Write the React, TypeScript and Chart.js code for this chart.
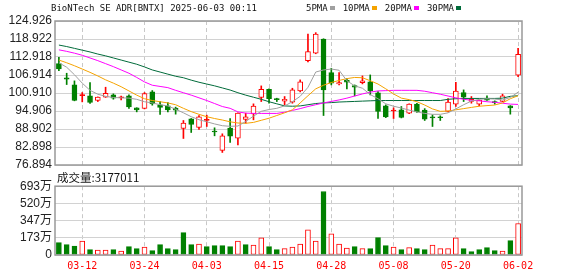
import React, { useEffect, useRef } from 'react';
import { Chart, registerables } from 'chart.js';

Chart.register(...registerables);

// ---------------- data ----------------
const dates = [
  '03-07', '03-10', '03-11', '03-12', '03-13', '03-14', '03-17', '03-18', '03-19', '03-20',
  '03-21', '03-24', '03-25', '03-26', '03-27', '03-28', '03-31', '04-01', '04-02', '04-03',
  '04-04', '04-07', '04-08', '04-09', '04-10', '04-11', '04-14', '04-15', '04-16', '04-17',
  '04-21', '04-22', '04-23', '04-24', '04-25', '04-28', '04-29', '04-30', '05-01', '05-02',
  '05-05', '05-06', '05-07', '05-08', '05-09', '05-12', '05-13', '05-14', '05-15', '05-16',
  '05-19', '05-20', '05-21', '05-22', '05-23', '05-27', '05-28', '05-29', '05-30', '06-02',
];

const openP = [
  110.72, 105.95, 103.61, 100.05, 99.95, 98.40, 99.51, 100.28, 99.30, 99.95,
  95.96, 95.73, 101.28, 96.95, 96.62, 95.84, 89.07, 92.29, 89.41, 91.80,
  88.10, 81.75, 89.18, 85.85, 92.07, 93.96, 99.40, 102.17, 98.80, 98.18,
  97.84, 101.62, 111.72, 114.16, 118.93, 107.72, 103.95, 105.17, 103.39, 104.39,
  104.61, 100.95, 96.62, 94.90, 95.29, 94.18, 97.18, 95.18, 92.70, 92.70,
  94.73, 97.18, 101.06, 98.06, 97.18, 99.20, 97.80, 98.06, 96.62, 106.83,
];

const highP = [
  112.83, 107.50, 104.95, 101.06, 104.39, 99.60, 102.84, 100.62, 99.90, 100.28,
  96.00, 101.06, 101.73, 98.06, 97.73, 96.20, 91.74, 92.40, 93.40, 93.51,
  89.30, 87.30, 92.40, 94.30, 94.18, 97.29, 103.28, 102.30, 99.17, 99.73,
  102.50, 105.28, 120.60, 121.04, 119.00, 109.16, 107.72, 105.72, 103.60, 106.61,
  106.94, 101.39, 96.95, 95.96, 96.40, 97.30, 97.50, 95.70, 93.62, 93.30,
  99.06, 104.50, 101.95, 99.73, 98.60, 99.95, 98.29, 100.51, 96.70, 115.82,
];

const lowP = [
  108.39, 103.73, 98.30, 97.95, 97.40, 98.06, 99.45, 98.84, 98.60, 95.73,
  94.62, 95.60, 96.84, 93.74, 94.62, 93.85, 85.74, 87.74, 88.74, 89.74,
  86.63, 81.08, 84.41, 83.63, 90.85, 91.96, 98.06, 97.51, 98.06, 96.95,
  97.50, 101.28, 111.27, 114.00, 93.40, 103.61, 103.61, 102.28, 99.95, 103.95,
  100.28, 92.40, 92.70, 92.40, 92.60, 94.00, 94.40, 91.74, 89.74, 91.74,
  94.60, 96.40, 98.06, 97.51, 96.62, 98.40, 97.18, 98.00, 93.85, 106.39,
];

const closeP = [
  108.94, 105.50, 98.40, 100.17, 97.73, 99.51, 100.84, 99.17, 99.40, 96.29,
  95.29, 100.73, 97.29, 96.07, 95.29, 95.18, 90.85, 90.41, 92.96, 92.00,
  87.90, 86.63, 86.50, 94.18, 92.96, 96.51, 102.17, 99.06, 98.70, 98.84,
  101.95, 104.61, 114.71, 120.60, 101.95, 104.17, 104.39, 104.50, 102.84, 104.95,
  101.62, 94.73, 92.96, 95.10, 92.74, 97.18, 94.62, 92.18, 92.60, 92.65,
  97.84, 101.51, 99.51, 98.84, 98.55, 98.50, 97.70, 99.95, 95.96, 113.83,
];

const volume = [
  1245000, 1043000, 909000, 1414000, 539000, 505000, 505000, 539000, 404000, 842000,
  640000, 808000, 438000, 1043000, 640000, 539000, 2255000, 1043000, 1111000, 842000,
  942000, 942000, 842000, 1414000, 1043000, 1010000, 1717000, 842000, 539000, 640000,
  808000, 1111000, 2525000, 1414000, 6395000, 2121000, 1111000, 707000, 842000, 640000,
  640000, 1750000, 942000, 808000, 539000, 741000, 640000, 539000, 1010000, 640000,
  640000, 1717000, 640000, 337000, 539000, 741000, 438000, 404000, 1447000, 3177011,
];

const ma5 = [
  111.0, 109.5, 107.0, 104.2, 101.8, 100.5, 99.8, 99.4, 99.3, 99.2,
  98.8, 98.0, 97.6, 97.0, 96.6, 95.5, 94.3, 93.0, 92.0, 91.3,
  90.6, 90.0, 89.8, 89.9, 91.4, 93.2, 94.8, 95.4, 95.8, 96.6,
  98.0, 99.8, 102.8, 107.9, 108.6, 108.9, 108.5, 105.0, 103.3, 102.5,
  100.4, 99.0, 97.3, 96.5, 95.9, 95.2, 94.6, 94.1, 93.8, 93.8,
  94.3, 95.6, 97.0, 98.2, 98.8, 99.0, 98.9, 98.6, 99.4, 101.2,
];

const ma10 = [
  111.9, 111.0, 110.0, 108.9, 107.8, 106.6, 105.3, 104.2, 103.0, 101.6,
  100.2, 99.0, 98.4, 98.0, 97.6, 97.0, 95.8, 94.7, 93.8, 93.0,
  92.4, 91.9, 91.3, 90.9, 90.8, 91.1, 91.8, 92.5, 93.4, 94.3,
  95.3, 97.6, 100.0, 102.3, 103.5, 104.4, 105.1, 105.7, 106.1, 106.0,
  105.0, 103.9, 102.3, 100.6, 99.2, 98.7, 98.0, 96.9, 95.6, 94.8,
  94.9, 95.3, 95.7, 96.1, 96.5, 96.7, 96.9, 97.6, 99.0, 100.0,
];

const ma20 = [
  115.3, 114.8, 114.2, 113.5, 112.6, 111.7, 110.7, 109.7, 108.6, 107.5,
  106.1, 104.6, 103.5, 103.1, 102.7, 101.8, 101.0, 100.2, 99.3, 98.4,
  97.4, 96.4, 95.8, 94.6, 94.2, 94.1, 94.1, 94.1, 94.1, 94.5,
  95.1, 95.7, 96.4, 97.0, 97.6, 98.1, 98.6, 99.2, 99.9, 100.6,
  101.2, 101.6, 101.7, 101.8, 101.8, 101.8, 101.8, 101.5, 101.0, 100.5,
  99.9, 99.3, 98.8, 98.5, 98.3, 98.0, 97.8, 97.5, 97.2, 97.1,
];

const ma30 = [
  116.9, 116.4, 115.8, 115.2, 114.6, 113.9, 113.3, 112.6, 111.9, 111.2,
  110.5, 109.6, 108.6, 107.9, 107.2, 106.5, 106.0, 105.2, 104.5, 103.9,
  103.3, 102.6, 101.9, 101.0, 100.2, 99.5, 98.8, 98.0, 97.3, 96.6,
  96.5, 96.6, 97.0, 97.4, 97.6, 97.7, 97.9, 98.0, 98.1, 98.2,
  98.3, 98.4, 98.4, 98.4, 98.4, 98.4, 98.4, 98.4, 98.4, 98.4,
  98.8, 99.0, 99.1, 99.1, 99.1, 99.1, 99.1, 99.2, 99.8, 100.0,
];

const priceTicks = [76.894, 82.898, 88.902, 94.906, 100.910, 106.914, 112.918, 118.922, 124.926];
const priceMin = 76.894;
const priceMax = 124.926;
const volumeTicks = [0, 1732500, 3465000, 5197500, 6930000];
const volumeTickLabels = ['0', '173万', '347万', '520万', '693万'];
const volumeMax = 6930000;
const xLabelIndices = [3, 11, 19, 27, 35, 43, 51, 59];
const titleText = 'BioNTech SE ADR[BNTX] 2025-06-03 00:11';
const maNames = ['5PMA', '10PMA', '20PMA', '30PMA'];
const volumeLabel = '成交量';
const lastVolume = 3177011;

// ---------------- styles ----------------
const UP = '#ff0000';
const DOWN = '#008000';
const MA_COLORS = ['#a0a0a0', '#f5a300', '#ff00ff', '#006b3a'];
const GRID = '#d2d2d2';
const VGRID = '#c8c8c8';
const FRAME = '#999999';

const framePlugin = {
  id: 'frameBox',
  afterDatasetsDraw(chart: any) {
    const { ctx, chartArea: a } = chart;
    ctx.save();
    ctx.strokeStyle = FRAME;
    ctx.lineWidth = 1.5;
    ctx.strokeRect(a.left, a.top, a.right - a.left, a.bottom - a.top);
    ctx.restore();
  },
};

const vGridColor = (c: any) => (xLabelIndices.includes(c.index) ? VGRID : 'rgba(0,0,0,0)');

export default function App() {
  const mainRef = useRef<HTMLCanvasElement | null>(null);
  const volRef = useRef<HTMLCanvasElement | null>(null);

  useEffect(() => {
    Chart.defaults.font.family = "'Liberation Sans', Arial, sans-serif";
    const isUp = dates.map((_, i) => closeP[i] >= openP[i]);
    const bodyFill = dates.map((_, i) =>
      isUp[i] ? (Math.abs(closeP[i] - openP[i]) < 0.3 ? UP : '#ffffff') : DOWN
    );
    const candleColor = isUp.map((u) => (u ? UP : DOWN));
    const volUp = dates.map((_, i) => closeP[i] >= (i === 0 ? openP[0] : closeP[i - 1]));

    const mas = [ma5, ma10, ma20, ma30];

    const main = new Chart(mainRef.current as HTMLCanvasElement, {
      type: 'bar',
      data: {
        labels: dates,
        datasets: [
          ...mas.map((m, k) => ({
            type: 'line' as const,
            label: maNames[k],
            data: m,
            borderColor: MA_COLORS[k],
            borderWidth: 1,
            pointRadius: 0,
            fill: false,
            tension: 0,
            order: 0,
          })),
          {
            type: 'bar' as const,
            label: 'body',
            data: dates.map((_, i) => [openP[i], closeP[i]]),
            backgroundColor: bodyFill,
            borderColor: candleColor,
            borderWidth: 1,
            borderSkipped: false,
            barThickness: 5,
            minBarLength: 1,
            grouped: false,
            order: 2,
          },
          {
            type: 'bar' as const,
            label: 'wick',
            data: dates.map((_, i) => [lowP[i], highP[i]]),
            backgroundColor: candleColor,
            borderWidth: 0,
            barThickness: 1,
            grouped: false,
            order: 3,
          },
        ],
      } as any,
      options: {
        responsive: false,
        animation: false,
        devicePixelRatio: 1,
        layout: { padding: { top: 21, right: 56, bottom: 11, left: 0 } },
        plugins: { legend: { display: false }, tooltip: { enabled: false } },
        scales: {
          x: {
            offset: true,
            grid: { offset: false, color: vGridColor, drawTicks: false, lineWidth: 1 },
            border: { display: false, dash: [4, 3] },
            ticks: { display: false, autoSkip: false },
            afterFit: (s: any) => {
              s.height = 0;
            },
          },
          y: {
            min: priceMin,
            max: priceMax,
            afterBuildTicks: (s: any) => {
              s.ticks = priceTicks.map((v) => ({ value: v }));
            },
            ticks: {
              autoSkip: false,
              callback: (v: any) => Number(v).toFixed(3),
              color: '#222',
              font: { size: 12, family: "'Liberation Sans', Arial, sans-serif" },
              padding: 3,
            },
            grid: { color: GRID, drawTicks: false },
            border: { display: false },
            afterFit: (s: any) => {
              s.width = 55;
            },
          },
        },
      } as any,
      plugins: [framePlugin],
    });

    const vol = new Chart(volRef.current as HTMLCanvasElement, {
      type: 'bar',
      data: {
        labels: dates,
        datasets: [
          {
            label: 'volume',
            data: volume,
            backgroundColor: volUp.map((u) => (u ? '#ffffff' : DOWN)),
            borderColor: volUp.map((u) => (u ? UP : DOWN)),
            borderWidth: 1,
            borderSkipped: false,
            barThickness: 5,
          },
        ],
      },
      options: {
        responsive: false,
        animation: false,
        devicePixelRatio: 1,
        layout: { padding: { top: 10, right: 56, bottom: 0, left: 0 } },
        plugins: { legend: { display: false }, tooltip: { enabled: false } },
        scales: {
          x: {
            offset: true,
            grid: { offset: false, color: vGridColor, drawTicks: false, lineWidth: 1 },
            border: { display: false, dash: [4, 3] },
            ticks: {
              autoSkip: false,
              maxRotation: 0,
              minRotation: 0,
              color: UP,
              font: { size: 10, family: "'DejaVu Sans Mono', monospace" },
              padding: 5,
              callback: (_v: any, i: number) => (xLabelIndices.includes(i) ? dates[i] : ''),
            },
            afterFit: (s: any) => {
              s.height = 21;
            },
          },
          y: {
            min: 0,
            max: volumeMax,
            afterBuildTicks: (s: any) => {
              s.ticks = volumeTicks.map((v) => ({ value: v }));
            },
            ticks: {
              autoSkip: false,
              callback: (v: any) => {
                const k = volumeTicks.indexOf(Number(v));
                return k >= 0 ? volumeTickLabels[k] : '';
              },
              color: '#222',
              font: { size: 12, family: "'Liberation Sans', 'Noto Sans CJK SC', sans-serif" },
              padding: 3,
            },
            grid: { color: GRID, drawTicks: false },
            border: { display: false },
            afterFit: (s: any) => {
              s.width = 55;
            },
          },
        },
      } as any,
      plugins: [framePlugin],
    });

    return () => {
      main.destroy();
      vol.destroy();
    };
  }, []);

  const mono = "'DejaVu Sans Mono', monospace";

  return (
    <div
      style={{
        position: 'absolute',
        left: 0,
        top: 0,
        width: 578,
        height: 276,
        background: '#ffffff',
        overflow: 'hidden',
      }}
    >
      <canvas ref={mainRef} width={578} height={176} style={{ position: 'absolute', left: 0, top: 0 }} />
      <canvas ref={volRef} width={578} height={100} style={{ position: 'absolute', left: 0, top: 176 }} />
      <div
        style={{
          position: 'absolute',
          left: 51,
          top: 1,
          fontFamily: mono,
          fontSize: 9,
          lineHeight: '14px',
          color: '#111',
          whiteSpace: 'pre',
        }}
      >
        {titleText}
      </div>
      <div
        style={{
          position: 'absolute',
          left: 306,
          top: 1,
          height: 14,
          display: 'flex',
          alignItems: 'center',
          fontFamily: mono,
          fontSize: 9,
          lineHeight: '14px',
          color: '#111',
          whiteSpace: 'pre',
        }}
      >
        {maNames.map((n, k) => (
          <React.Fragment key={n}>
            <span>{n}</span>
            <span
              style={{
                display: 'inline-block',
                width: 5,
                height: 4,
                marginLeft: 2.5,
                marginRight: 7.5,
                background: MA_COLORS[k],
              }}
            />
          </React.Fragment>
        ))}
      </div>
      <div
        style={{
          position: 'absolute',
          left: 57,
          top: 170,
          fontFamily: "'Noto Sans CJK SC', sans-serif",
          fontSize: 11.5,
          lineHeight: '14px',
          color: '#111',
          whiteSpace: 'pre',
        }}
      >
        {volumeLabel + ':' + lastVolume}
      </div>
    </div>
  );
}
